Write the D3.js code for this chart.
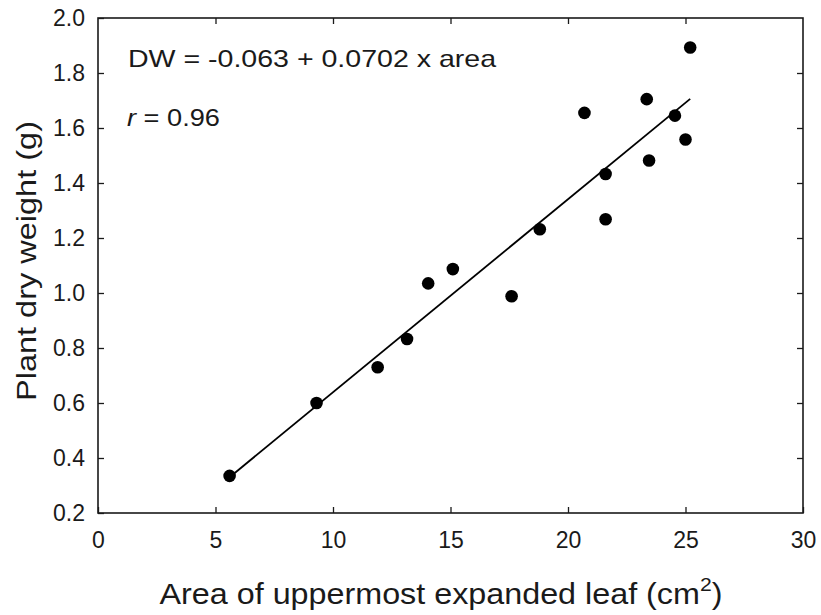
<!DOCTYPE html>
<html>
<head>
<meta charset="utf-8">
<script src="https://cdn.jsdelivr.net/npm/d3@7"></script>
<style>
  body { margin: 0; background: #fff; }
  svg { display: block; }
</style>
</head>
<body>
<svg id="chart" width="821" height="615"></svg>
<script>
// leaf area (cm2) and plant dry weight (g)
const leafArea = [5.6, 9.3, 11.9, 13.15, 14.05, 15.1, 17.6, 18.8, 20.7, 21.6, 21.6, 23.35, 23.45, 24.55, 25.0, 25.2];
const dryWeight = [0.335, 0.60, 0.73, 0.833, 1.035, 1.087, 0.988, 1.232, 1.655, 1.268, 1.433, 1.705, 1.482, 1.645, 1.558, 1.893];

const fitIntercept = -0.063;
const fitSlope = 0.0702;
const fitRange = [5.6, 25.2];

const xTicks = [0, 5, 10, 15, 20, 25, 30];
const yTicks = [0.2, 0.4, 0.6, 0.8, 1.0, 1.2, 1.4, 1.6, 1.8, 2.0];

const svg = d3.select("#chart");
const margin = {top: 18, right: 18, bottom: 102, left: 98};
const width = 821, height = 615;
const font = "'Liberation Sans', Arial, sans-serif";
const ink = "#1a1a1a";

const x = d3.scaleLinear().domain([0, 30]).range([margin.left, width - margin.right]);
const y = d3.scaleLinear().domain([0.2, 2.0]).range([height - margin.bottom, margin.top]);

function styleAxis(g) {
    g.select(".domain").remove();
    g.selectAll(".tick line").attr("stroke", ink).attr("stroke-width", 1.3);
    g.selectAll(".tick text").attr("fill", ink).style("font-family", font).style("font-size", "23px");
}

// the figure's lettering is a bit wider than Arial, so stretch a label to its span
function stretchTo(sel, tx, ty, span, rot) {
    const w = sel.node().getBBox().width;
    sel.attr("transform", `translate(${tx},${ty})${rot ? ` rotate(${rot})` : ""} scale(${span / w},1)`);
}

// bottom
svg.append("g")
    .attr("transform", `translate(0,${y(0.2)})`)
    .call(d3.axisBottom(x).tickValues(xTicks).tickSizeInner(-6).tickSizeOuter(0).tickFormat(d3.format("d")))
    .call(styleAxis)
    .call(g => g.selectAll(".tick text").attr("y", 19).attr("dy", "0.71em"));

// left
svg.append("g")
    .attr("transform", `translate(${x(0)},0)`)
    .call(d3.axisLeft(y).tickValues(yTicks).tickSizeInner(-6).tickSizeOuter(0).tickFormat(d3.format(".1f")))
    .call(styleAxis)
    .call(g => g.selectAll(".tick text").attr("x", -13));

// top & right: ticks only
svg.append("g")
    .attr("transform", `translate(0,${y(2.0)})`)
    .call(d3.axisTop(x).tickValues(xTicks.slice(1, -1)).tickSizeInner(-6).tickSizeOuter(0).tickFormat(""))
    .call(styleAxis);
svg.append("g")
    .attr("transform", `translate(${x(30)},0)`)
    .call(d3.axisRight(y).tickValues(yTicks.slice(1, -1)).tickSizeInner(-6).tickSizeOuter(0).tickFormat(""))
    .call(styleAxis);

// frame
svg.append("rect")
    .attr("x", x(0)).attr("y", y(2.0))
    .attr("width", x(30) - x(0)).attr("height", y(0.2) - y(2.0))
    .attr("fill", "none").attr("stroke", ink).attr("stroke-width", 1.6);

// regression line
const line = d3.line().x(d => x(d)).y(d => y(fitIntercept + fitSlope * d));
svg.append("path")
    .datum(fitRange)
    .attr("d", line)
    .attr("fill", "none").attr("stroke", "#000").attr("stroke-width", 1.8);

// points
svg.append("g").selectAll("circle")
    .data(leafArea.map((a, i) => [a, dryWeight[i]]))
    .join("circle")
    .attr("cx", d => x(d[0]))
    .attr("cy", d => y(d[1]))
    .attr("r", 6.3)
    .attr("fill", "#000");

// annotations
const eq = svg.append("text")
    .style("font-family", font).style("font-size", "24px").attr("fill", ink)
    .text("DW = -0.063 + 0.0702 x area");
stretchTo(eq, 128, 67, 369);

const rt = svg.append("text")
    .style("font-family", font).style("font-size", "23px").attr("fill", ink);
rt.append("tspan").style("font-style", "italic").text("r");
rt.append("tspan").text(" = 0.96");
stretchTo(rt, 127, 126, 93);

// axis titles
const xt = svg.append("text")
    .attr("text-anchor", "middle")
    .style("font-family", font).style("font-size", "29px").attr("fill", ink);
xt.append("tspan").text("Area of uppermost expanded leaf (cm");
xt.append("tspan").attr("dy", -13).style("font-size", "19px").text("2");
xt.append("tspan").attr("dy", 13).text(")");
stretchTo(xt, 441, 604, 563);

const yt = svg.append("text")
    .attr("text-anchor", "middle")
    .style("font-family", font).style("font-size", "28px").attr("fill", ink)
    .text("Plant dry weight (g)");
stretchTo(yt, 36, 261, 280, -90);
</script>
</body>
</html>
